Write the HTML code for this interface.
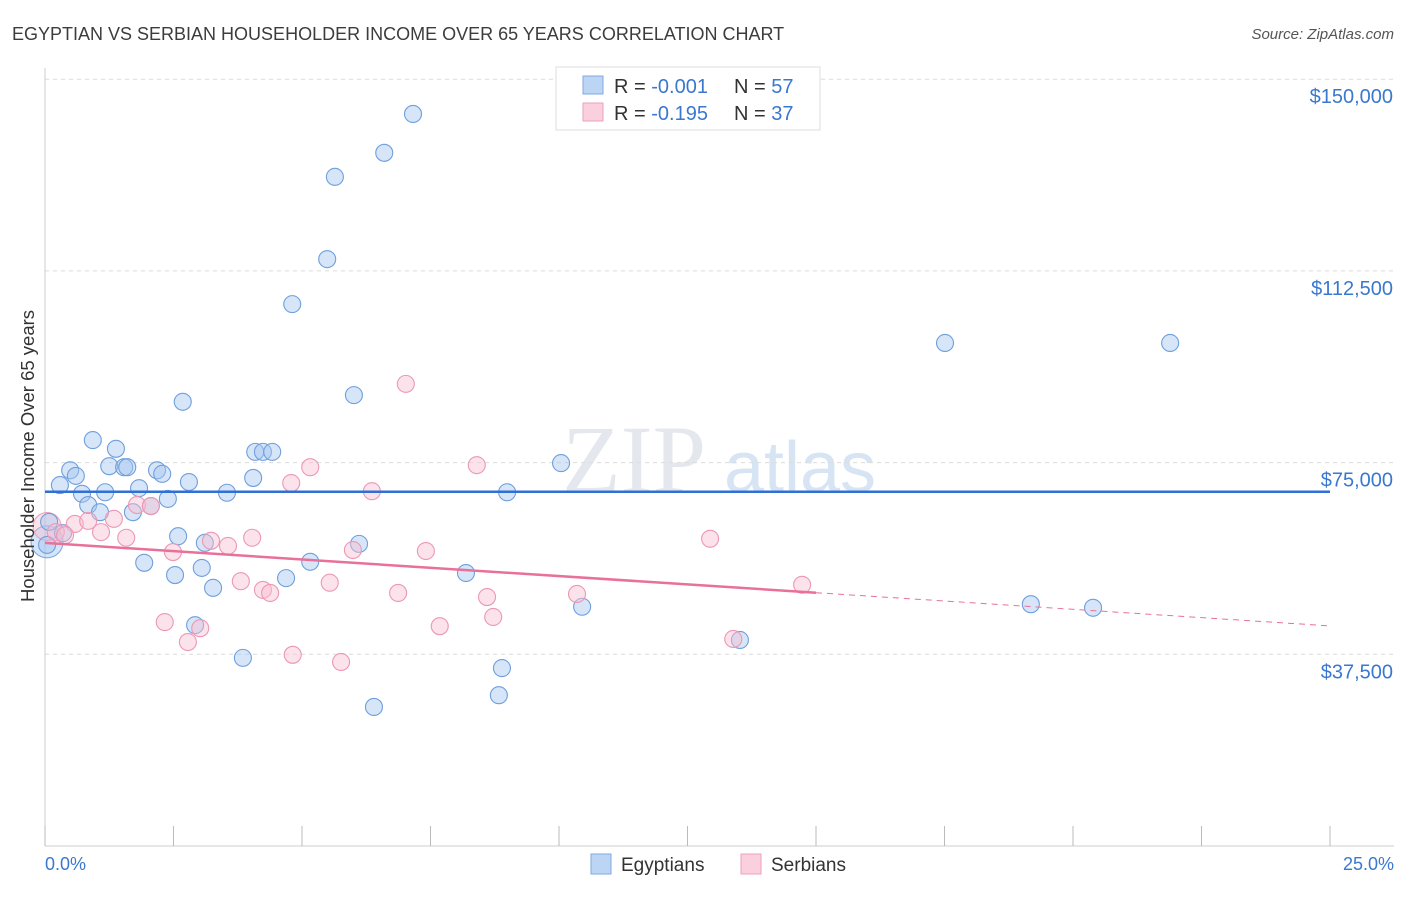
<!DOCTYPE html>
<html><head><meta charset="utf-8"><style>
body{margin:0;background:#fff;font-family:"Liberation Sans",sans-serif;}
</style></head><body>
<svg id="c" width="1406" height="892" xmlns="http://www.w3.org/2000/svg">
<text x="12" y="40" font-size="18" fill="#3c3c3c">EGYPTIAN VS SERBIAN HOUSEHOLDER INCOME OVER 65 YEARS CORRELATION CHART</text>
<text x="1394" y="39" font-size="15" fill="#555" font-style="italic" text-anchor="end">Source: ZipAtlas.com</text>
<text x="634" y="492" font-size="96" fill="#e4e8ee" font-family="Liberation Serif,serif" text-anchor="middle">ZIP</text>
<text x="800" y="492" font-size="72" fill="#d6e4f4" text-anchor="middle">atlas</text>
<g id="grid"></g><g id="axes"></g><g id="marks"></g>
<text transform="translate(34,456) rotate(-90)" font-size="18.5" fill="#333" text-anchor="middle">Householder Income Over 65 years</text>
<text x="45" y="870" font-size="18" fill="#3a78d0">0.0%</text>
<text x="1394" y="870" font-size="18" fill="#3a78d0" text-anchor="end">25.0%</text>
<g>
<rect x="556" y="67" width="264" height="63" fill="#fff" stroke="#ddd"/>
<rect x="583" y="76" width="20" height="18" fill="#bcd5f5" stroke="#7fa9e0"/>
<rect x="583" y="103" width="20" height="18" fill="#fbd0de" stroke="#eea0b8"/>
<text x="614" y="93" font-size="20" fill="#333">R = <tspan fill="#3a78d0">-0.001</tspan><tspan x="734">N = </tspan><tspan fill="#3a78d0">57</tspan></text>
<text x="614" y="120" font-size="20" fill="#333">R = <tspan fill="#3a78d0"> -0.195</tspan><tspan x="734">N = </tspan><tspan fill="#3a78d0">37</tspan></text>
</g>
<g>
<rect x="591" y="854" width="20" height="20" fill="#bcd5f5" stroke="#7fa9e0"/>
<text x="621" y="871" font-size="19" fill="#333">Egyptians</text>
<rect x="741" y="854" width="20" height="20" fill="#fbd0de" stroke="#eea0b8"/>
<text x="771" y="871" font-size="19" fill="#333">Serbians</text>
</g>
</svg>
<script>
const yTicks=[37500,75000,112500,150000];
const yTickLabels=["$37,500","$75,000","$112,500","$150,000"];
const xTicks=[0,2.5,5,7.5,10,12.5,15,17.5,20,22.5,25];
const egyX=[7.16,6.60,5.64,5.49,4.81,17.51,21.89,6.01,2.68,0.93,1.38,4.09,4.24,4.42,10.04,1.25,1.54,1.60,0.49,2.18,2.28,0.60,0.29,2.80,4.05,1.83,3.54,0.72,1.17,2.39,8.99,0.84,2.06,1.07,1.71,0.08,0.35,2.59,3.11,6.11,0.04,1.93,5.16,3.05,2.53,4.69,8.19,3.27,10.45,19.18,20.39,2.92,13.52,3.85,8.89,8.83,6.40];
const egyY=[143.2,135.6,130.9,114.8,106.0,98.4,98.4,88.2,86.9,79.4,77.7,77.1,77.1,77.1,74.9,74.3,74.1,74.1,73.5,73.5,72.8,72.4,70.6,71.2,72.0,70.0,69.1,68.9,69.2,67.9,69.2,66.7,66.5,65.3,65.3,63.4,61.2,60.6,59.3,59.1,58.9,55.4,55.6,54.4,53.0,52.4,53.4,50.5,46.8,47.3,46.6,43.2,40.3,36.8,34.8,29.5,27.2];
const serX=[7.02,8.40,5.16,4.79,6.36,1.79,2.06,1.34,0.58,0.84,0.21,1.09,0.39,1.58,4.03,3.23,3.56,5.99,7.41,2.49,12.94,3.81,5.54,14.73,6.87,4.24,4.38,8.60,10.35,8.72,2.33,3.02,7.68,13.39,2.78,4.82,5.76];
const serY=[90.4,74.5,74.1,71.0,69.4,66.7,66.5,64.0,63.0,63.6,61.4,61.4,60.8,60.3,60.3,59.7,58.7,57.9,57.7,57.5,60.1,51.8,51.5,51.1,49.5,50.1,49.5,48.7,49.3,44.8,43.8,42.6,43.0,40.5,39.9,37.4,36.0];
const egyTrend=[69.3,0];
const serTrend=[59.3,-0.65];
const NS="http://www.w3.org/2000/svg";
const X=p=>45+p/25*1285;
const Y=v=>846-v/37500*191.7;
const Yk=k=>Y(k*1000);
function mk(tag,attrs,parent){const e=document.createElementNS(NS,tag);for(const k in attrs)e.setAttribute(k,attrs[k]);document.getElementById(parent).appendChild(e);return e;}
yTicks.forEach((t,i)=>{
 const g=mk('line',{x1:45,x2:1394,y1:Y(t),y2:Y(t),stroke:'#dcdcdc','stroke-dasharray':'4,4'},'grid');
 
 
 const l=mk('text',{x:1393,y:Y(t)+24,'font-size':20,fill:'#3a78d0','text-anchor':'end'},'axes');
 l.textContent=yTickLabels[i];
 
 
});
const ax=mk('line',{x1:45,x2:45,y1:68,y2:846,stroke:'#ccc'},'axes');


const bx=mk('line',{x1:45,x2:1394,y1:846,y2:846,stroke:'#ccc'},'axes');


xTicks.forEach(t=>{
 const e=mk('line',{x1:X(t),x2:X(t),y1:826,y2:846,stroke:'#bbb'},'axes');
 
 
});
function dot(x,y,r,fill,stroke,name){
 const c=mk('circle',{cx:X(x),cy:Yk(y),r:r,fill:fill,stroke:stroke,'stroke-width':1.1},'marks');
 
 
}
dot(0.04,59.5,16,'rgba(150,190,240,0.4)','#7fa9e0','egyptian-point-large');
dot(0.04,62.5,14,'rgba(248,185,205,0.4)','#eea0b8','serbian-point-large');
egyX.forEach((x,i)=>dot(x,egyY[i],8.5,'rgba(165,198,240,0.45)','#6f9fdc','egyptian-point'));
serX.forEach((x,i)=>dot(x,serY[i],8.5,'rgba(248,190,208,0.45)','#ec98b4','serbian-point'));
const bl=mk('line',{x1:X(0),x2:X(25),y1:Yk(egyTrend[0]),y2:Yk(egyTrend[0]+egyTrend[1]*25),stroke:'#2f6fd6','stroke-width':2.5},'marks');


const pl=mk('line',{x1:X(0),x2:X(15),y1:Yk(serTrend[0]),y2:Yk(serTrend[0]+serTrend[1]*15),stroke:'#e8709a','stroke-width':2.5},'marks');


const pd=mk('line',{x1:X(15),x2:X(25),y1:Yk(serTrend[0]+serTrend[1]*15),y2:Yk(serTrend[0]+serTrend[1]*25),stroke:'#e8709a','stroke-width':1,'stroke-dasharray':'6,5'},'marks');


</script>
</body></html>
